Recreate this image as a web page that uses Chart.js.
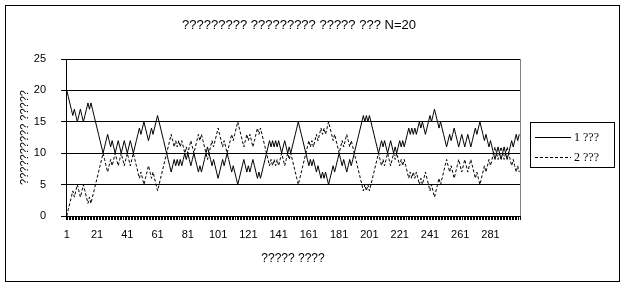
<!DOCTYPE html>
<html>
<head>
<meta charset="utf-8">
<script src="https://cdn.jsdelivr.net/npm/chart.js@4.4.0/dist/chart.umd.min.js"></script>
<style>
  html, body { margin: 0; padding: 0; background: #fff; }
  #wrap { width: 624px; height: 287px; }
</style>
</head>
<body>
<div id="wrap"><canvas id="urnChart" width="624" height="287"></canvas></div>
<script>
// --- datos del gráfico ---
const chartTitle = '????????? ????????? ????? ??? N=20';
const xAxisTitle = '????? ????';
const yAxisTitle = '?????????? ?????';
const seriesNames = ['1 ???', '2 ???'];

// pasos 1..300
const steps = Array.from({ length: 300 }, (_, i) => String(i + 1));
const xTickLabels = ['1', '21', '41', '61', '81', '101', '121', '141', '161', '181', '201', '221', '241', '261', '281'];
const yTickValues = [0, 5, 10, 15, 20, 25];

const urn1 = [
  20, 19, 18, 17, 16, 17, 16, 15, 16, 17, 16, 15, 16, 17, 18, 17, 18, 17, 16, 15,
  14, 13, 12, 11, 10, 11, 12, 13, 12, 11, 12, 11, 10, 11, 12, 11, 10, 11, 12, 11,
  10, 11, 12, 11, 10, 11, 12, 13, 14, 13, 14, 15, 14, 13, 12, 13, 14, 13, 14, 15,
  16, 15, 14, 13, 12, 11, 10, 9, 8, 7, 8, 9, 8, 9, 8, 9, 8, 9, 10, 9,
  10, 9, 8, 9, 10, 9, 8, 7, 8, 7, 8, 9, 10, 11, 10, 9, 8, 9, 8, 7,
  6, 7, 8, 9, 8, 9, 10, 9, 8, 7, 8, 7, 6, 5, 6, 7, 8, 9, 8, 7,
  8, 7, 8, 9, 8, 7, 6, 7, 6, 7, 8, 9, 10, 11, 12, 11, 12, 11, 12, 11,
  12, 11, 10, 11, 12, 11, 10, 11, 10, 11, 12, 13, 14, 15, 14, 13, 12, 11, 10, 9,
  8, 9, 8, 9, 8, 7, 8, 7, 6, 7, 6, 7, 6, 5, 6, 7, 8, 7, 8, 9,
  10, 9, 8, 9, 8, 7, 8, 9, 8, 9, 10, 11, 12, 13, 14, 15, 16, 15, 16, 15,
  16, 15, 14, 13, 12, 11, 10, 11, 12, 11, 12, 11, 10, 11, 12, 11, 10, 11, 10, 11,
  12, 11, 12, 11, 12, 13, 14, 13, 14, 13, 14, 13, 14, 15, 14, 15, 14, 13, 14, 15,
  16, 15, 16, 17, 16, 15, 14, 15, 14, 13, 12, 11, 12, 13, 12, 13, 14, 13, 12, 11,
  12, 13, 12, 11, 12, 13, 12, 11, 12, 13, 14, 13, 14, 15, 14, 13, 12, 13, 12, 11,
  12, 11, 10, 9, 10, 11, 10, 9, 10, 11, 10, 9, 10, 11, 12, 11, 12, 13, 12, 13
];

const urn2 = [
  0, 1, 2, 3, 4, 3, 4, 5, 4, 3, 4, 5, 4, 3, 2, 3, 2, 3, 4, 5,
  6, 7, 8, 9, 10, 9, 8, 7, 8, 9, 8, 9, 10, 9, 8, 9, 10, 9, 8, 9,
  10, 9, 8, 9, 10, 9, 8, 7, 6, 7, 6, 5, 6, 7, 8, 7, 6, 7, 6, 5,
  4, 5, 6, 7, 8, 9, 10, 11, 12, 13, 12, 11, 12, 11, 12, 11, 12, 11, 10, 11,
  10, 11, 12, 11, 10, 11, 12, 13, 12, 13, 12, 11, 10, 9, 10, 11, 12, 11, 12, 13,
  14, 13, 12, 11, 12, 11, 10, 11, 12, 13, 12, 13, 14, 15, 14, 13, 12, 11, 12, 13,
  12, 13, 12, 11, 12, 13, 14, 13, 14, 13, 12, 11, 10, 9, 8, 9, 8, 9, 8, 9,
  8, 9, 10, 9, 8, 9, 10, 9, 10, 9, 8, 7, 6, 5, 6, 7, 8, 9, 10, 11,
  12, 11, 12, 11, 12, 13, 12, 13, 14, 13, 14, 13, 14, 15, 14, 13, 12, 13, 12, 11,
  10, 11, 12, 11, 12, 13, 12, 11, 12, 11, 10, 9, 8, 7, 6, 5, 4, 5, 4, 5,
  4, 5, 6, 7, 8, 9, 10, 9, 8, 9, 8, 9, 10, 9, 8, 9, 10, 9, 10, 9,
  8, 9, 8, 9, 8, 7, 6, 7, 6, 7, 6, 7, 6, 5, 6, 5, 6, 7, 6, 5,
  4, 5, 4, 3, 4, 5, 6, 5, 6, 7, 8, 9, 8, 7, 8, 7, 6, 7, 8, 9,
  8, 7, 8, 9, 8, 7, 8, 9, 8, 7, 6, 7, 6, 5, 6, 7, 8, 7, 8, 9,
  8, 9, 10, 11, 10, 9, 10, 11, 10, 9, 10, 11, 10, 9, 8, 9, 8, 7, 8, 7
];

const FONT = 'Liberation Sans, Arial, sans-serif';
const SERIF = 'Liberation Serif, "Times New Roman", serif';

// marco exterior, título, borde gris del área y leyenda con recuadro
const framePlugin = {
  id: 'frame',
  beforeDraw(c) {
    const g = c.ctx;
    g.save();
    g.fillStyle = '#fff';
    g.fillRect(0, 0, c.width, c.height);
    g.restore();
  },
  beforeDatasetsDraw(c) {
    const g = c.ctx;
    const a = c.chartArea;
    g.save();
    g.strokeStyle = '#808080';
    g.lineWidth = 1;
    g.beginPath();
    g.moveTo(Math.round(a.right) + 0.5, a.top);
    g.lineTo(Math.round(a.right) + 0.5, a.bottom);
    g.stroke();
    g.restore();
  },
  afterDraw(c) {
    const g = c.ctx;
    g.save();
    g.strokeStyle = '#000';
    g.fillStyle = '#000';
    g.lineWidth = 1;
    g.strokeRect(5.5, 5.5, 614, 276);

    g.font = '13px ' + FONT;
    g.textAlign = 'center';
    g.textBaseline = 'middle';
    g.fillText(chartTitle, 299, 25);

    g.strokeRect(530.5, 122.5, 84, 45);
    g.font = '12px ' + SERIF;
    g.textAlign = 'left';
    c.data.datasets.forEach((ds, i) => {
      const y = 137.5 + i * 20;
      g.setLineDash(ds.borderDash || []);
      g.beginPath();
      g.moveTo(535, y);
      g.lineTo(571, y);
      g.stroke();
      g.setLineDash([]);
      g.fillText(ds.label, 574, y);
    });
    g.restore();
  }
};

const ctx = document.getElementById('urnChart').getContext('2d');

new Chart(ctx, {
  type: 'line',
  data: {
    labels: steps,
    datasets: [
      {
        label: seriesNames[0],
        data: urn1,
        borderColor: '#000',
        borderWidth: 1,
        pointRadius: 0,
        tension: 0,
        fill: false
      },
      {
        label: seriesNames[1],
        data: urn2,
        borderColor: '#000',
        borderWidth: 1,
        borderDash: [3, 2],
        pointRadius: 0,
        tension: 0,
        fill: false
      }
    ]
  },
  options: {
    responsive: false,
    animation: false,
    devicePixelRatio: 1,
    layout: { padding: { top: 59, left: 10, right: 104, bottom: 21 } },
    plugins: {
      legend: { display: false },
      tooltip: { enabled: false },
      title: { display: false }
    },
    scales: {
      x: {
        type: 'category',
        offset: true,
        grid: { display: true, drawOnChartArea: false, drawTicks: true, tickLength: 4, color: '#000', offset: true },
        border: { display: true, color: '#000' },
        ticks: {
          autoSkip: false,
          maxRotation: 0,
          minRotation: 0,
          padding: 8,
          color: '#000',
          font: { family: FONT, size: 11 },
          callback: (value, index) => xTickLabels.includes(steps[index]) ? steps[index] : ''
        },
        title: {
          display: true,
          text: xAxisTitle,
          color: '#000',
          font: { family: FONT, size: 12 },
          padding: { top: 1, bottom: 0 }
        },
        afterFit: (scale) => { scale.height = 50; }
      },
      y: {
        min: yTickValues[0],
        max: yTickValues[yTickValues.length - 1],
        grid: { color: '#000', tickLength: 5, drawTicks: true },
        border: { display: true, color: '#000' },
        ticks: {
          stepSize: yTickValues[1] - yTickValues[0],
          padding: 15,
          color: '#000',
          font: { family: FONT, size: 11 }
        },
        title: {
          display: true,
          text: yAxisTitle,
          color: '#000',
          font: { family: FONT, size: 11 },
          padding: { top: 8, bottom: 2 }
        },
        afterFit: (scale) => { scale.width = 56; }
      }
    }
  },
  plugins: [framePlugin]
});
</script>
</body>
</html>
